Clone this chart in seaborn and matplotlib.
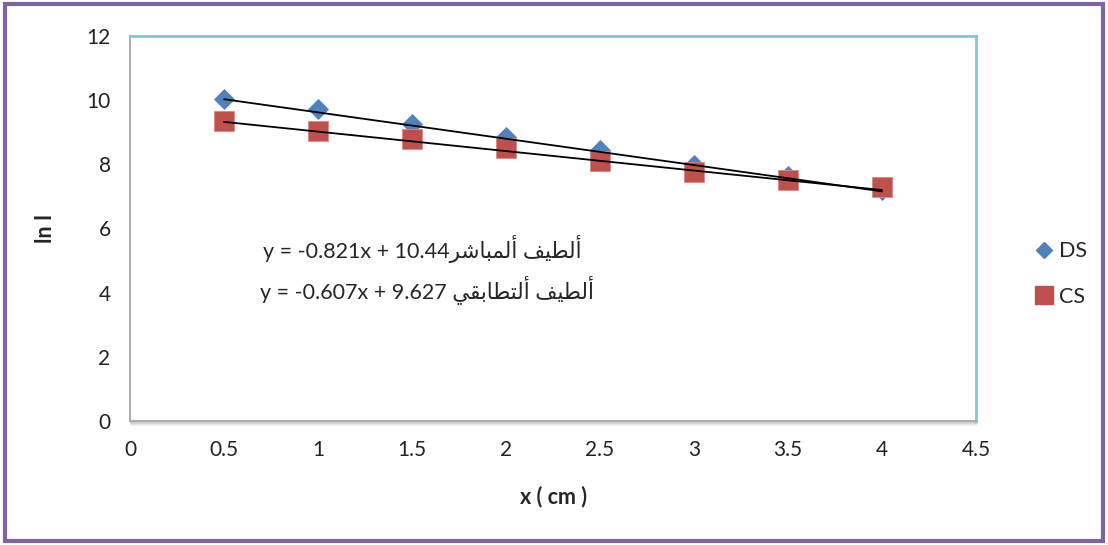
import numpy as np
import pandas as pd
import seaborn as sns
import matplotlib.pyplot as plt
from matplotlib.patches import Rectangle
from matplotlib.lines import Line2D
from matplotlib.transforms import ScaledTranslation

# Measured intensity (ln I) against thickness x for two spectra
x_cm = [0.5, 1.0, 1.5, 2.0, 2.5, 3.0, 3.5, 4.0]
ds_lnI = [10.03, 9.72, 9.25, 8.85, 8.44, 7.97, 7.63, 7.20]
cs_lnI = [9.35, 9.03, 8.78, 8.50, 8.10, 7.76, 7.50, 7.29]
series_names = ["DS", "CS"]

# Linear trend lines (slope, intercept)
ds_fit = (-0.821, 10.44)
cs_fit = (-0.607, 9.627)

# Trend-line labels; Arabic written in presentation forms, visual order
ds_label = "y = -0.821x + 10.44" + "\ufeae\ufeb7\ufe8e\ufe92\ufee4\ufedf\ufe83" + " " + "\ufed2\ufef4\ufec4\ufedf\ufe83"
cs_label = "y = -0.607x + 9.627 " + "\ufef2\ufed8\ufe91\ufe8e\ufec4\ufe98\ufedf\ufe83" + " " + "\ufed2\ufef4\ufec4\ufedf\ufe83"

x_ticks = [0, 0.5, 1, 1.5, 2, 2.5, 3, 3.5, 4, 4.5]
y_ticks = [0, 2, 4, 6, 8, 10, 12]

sns.set_theme(style="white")
plt.rcParams["font.family"] = ["Lato", "DejaVu Sans"]

df = pd.DataFrame({
    "x": x_cm * 2,
    "lnI": ds_lnI + cs_lnI,
    "series": ["DS"] * len(x_cm) + ["CS"] * len(x_cm),
})

blue = "#4F81BD"
red = "#C0504D"

fig = plt.figure(figsize=(11.08, 5.45), dpi=100)
ax = fig.add_axes([130 / 1108, 1 - 421 / 545, (976 - 130) / 1108, (421 - 36) / 545])

sns.scatterplot(data=df[df.series == "DS"], x="x", y="lnI", marker="D", s=115,
                color=blue, edgecolor=blue, linewidth=0, ax=ax, legend=False, zorder=3)
sns.scatterplot(data=df[df.series == "CS"], x="x", y="lnI", marker="s", s=200,
                color=red, edgecolor="#D88A88", linewidth=0.6, ax=ax, legend=False, zorder=4)

xf = np.array([min(x_cm), max(x_cm)])
for slope, icpt in (ds_fit, cs_fit):
    ax.plot(xf, slope * xf + icpt, color="black", lw=1.3, zorder=5)

ax.set_xlim(0, 4.5)
ax.set_ylim(0, 12)
ax.set_xticks(x_ticks)
ax.set_xticklabels([f"{t:g}" for t in x_ticks])
ax.set_yticks(y_ticks)
ax.tick_params(axis="both", direction="out", length=5, width=1, color="#A6A6A6",
               labelsize=15, labelcolor="#222222")
ax.tick_params(axis="x", pad=9)
ax.tick_params(axis="y", pad=9)
ax.grid(False)

for side in ("left", "bottom"):
    ax.spines[side].set_color("#A6A6A6")
    ax.spines[side].set_linewidth(1.3)
for side in ("top", "right"):
    ax.spines[side].set_color("#7EC8D8")
    ax.spines[side].set_linewidth(2)

# soft shadow under the bottom axis line
for i, a in enumerate([0.35, 0.25, 0.15, 0.08]):
    ax.plot([0, 1], [0, 0],
            transform=ax.transAxes + ScaledTranslation(0, -(i + 1) / 100, fig.dpi_scale_trans),
            color="#7F7F7F", alpha=a, lw=1, clip_on=False, zorder=1)

ax.set_xlabel("x ( cm )", fontsize=15.5, fontweight="bold", labelpad=18)
ax.set_ylabel("ln I", fontsize=15.5, fontweight="bold", labelpad=22)

ax.text(0.71, 5.36, ds_label, fontsize=15.5, ha="left", va="center",
        family=["Lato", "DejaVu Sans"], zorder=6)
ax.text(0.69, 4.11, cs_label, fontsize=15.5, ha="left", va="center",
        family=["Lato", "DejaVu Sans"], zorder=6)

handles = [
    Line2D([], [], marker="D", color=blue, linestyle="none", markersize=8),
    Line2D([], [], marker="s", color=red, linestyle="none", markersize=13),
]
fig.legend(handles, series_names, loc="center left", bbox_to_anchor=(1012 / 1108, 1 - 274 / 545),
           frameon=False, fontsize=15.5, labelspacing=1.2, handletextpad=0.1, handlelength=1.2)

fig.patches.append(Rectangle((5 / 1108, 4 / 545), 1098 / 1108, 537 / 545,
                             transform=fig.transFigure, fill=False,
                             edgecolor="#8064A2", linewidth=3))

fig.savefig("out.png", dpi=100, facecolor="white")
